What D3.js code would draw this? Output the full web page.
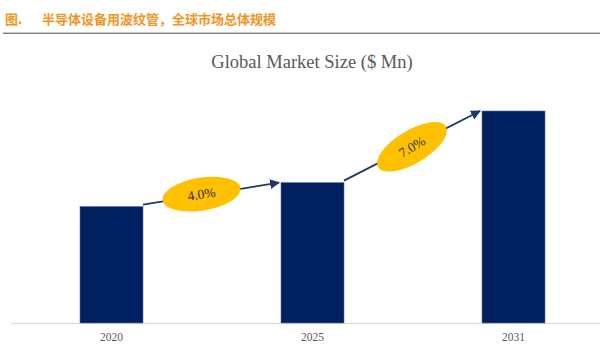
<!DOCTYPE html>
<html>
<head>
<meta charset="utf-8">
<script src="https://cdn.jsdelivr.net/npm/d3@7/dist/d3.min.js"></script>
<style>
  html, body { margin: 0; padding: 0; background: #fff; }
  svg { display: block; }
</style>
</head>
<body>
<svg id="chart" width="600" height="360"></svg>
<script>
const categories = ["2020", "2025", "2031"];
const marketSize = [117, 141, 213];
const cagrLabels = ["4.0%", "7.0%"];
const headerTitle = "图.";
const headerText = "半导体设备用波纹管，全球市场总体规模";
const chartTitle = "Global Market Size ($ Mn)";

const svg = d3.select("#chart");

// Header
svg.append("text").attr("x", 5).attr("y", 24)
  .attr("font-family", "'Noto Sans CJK SC', sans-serif").attr("font-weight", "bold")
  .attr("font-size", 13).attr("fill", "#F39322").text(headerTitle);
svg.append("text").attr("x", 42).attr("y", 24)
  .attr("font-family", "'Noto Sans CJK SC', sans-serif").attr("font-weight", "bold")
  .attr("font-size", 13).attr("fill", "#F39322").text(headerText);
svg.append("line").attr("x1", 3).attr("x2", 600).attr("y1", 32.5).attr("y2", 32.5)
  .attr("stroke", "#c8c8c8").attr("stroke-width", 1);
svg.append("line").attr("x1", 3).attr("x2", 600).attr("y1", 33.5).attr("y2", 33.5)
  .attr("stroke", "#7f7f7f").attr("stroke-width", 1.2);

// Chart title
svg.append("text").attr("x", 312).attr("y", 68).attr("text-anchor", "middle")
  .attr("font-family", "'Liberation Serif', 'Times New Roman', serif")
  .attr("font-size", 18.5).attr("fill", "#595959").text(chartTitle);

const baseY = 323;
const x = d3.scaleBand().domain(categories).range([11, 614])
  .paddingInner(0.6866).paddingOuter(0.3433);
const y = d3.scaleLinear().domain([0, 213]).range([baseY, 111]);

// Baseline
svg.append("line").attr("x1", 11).attr("x2", 600).attr("y1", baseY + 0.5).attr("y2", baseY + 0.5)
  .attr("stroke", "#d9d9d9").attr("stroke-width", 1);

// Bars
svg.append("g").selectAll("rect").data(categories).join("rect")
  .attr("x", d => x(d)).attr("width", x.bandwidth())
  .attr("y", (d, i) => y(marketSize[i]))
  .attr("height", (d, i) => baseY - y(marketSize[i]))
  .attr("fill", "#002060").attr("stroke", "#5a6fa0").attr("stroke-width", 0.6);

// X axis labels
const xAxis = d3.axisBottom(x).tickSize(0).tickPadding(10);
const gx = svg.append("g").attr("transform", `translate(0,${baseY})`).call(xAxis);
gx.select(".domain").remove();
gx.selectAll("text").attr("font-family", "'Liberation Serif', 'Times New Roman', serif")
  .attr("font-size", 11.5).attr("fill", "#595959");

// Arrow marker
const defs = svg.append("defs");
defs.append("marker").attr("id", "arr").attr("viewBox", "0 0 10 10")
  .attr("refX", 9).attr("refY", 5).attr("markerWidth", 5.5).attr("markerHeight", 5.5)
  .attr("markerUnits", "strokeWidth").attr("orient", "auto")
  .append("path").attr("d", "M0,0 L10,5 L0,10 Z").attr("fill", "#203864");

const ellipsePos = [0.43, 0.5];
for (let i = 0; i < cagrLabels.length; i++) {
  const a = categories[i], b = categories[i + 1];
  const x1 = x(a) + x.bandwidth(), y1 = y(marketSize[i]) - 2;
  const x2 = x(b) - 2, y2 = y(marketSize[i + 1]);
  svg.append("line").attr("x1", x1).attr("y1", y1).attr("x2", x2).attr("y2", y2)
    .attr("stroke", "#203864").attr("stroke-width", 1.8).attr("marker-end", "url(#arr)");
  const t = ellipsePos[i];
  const cx = x1 + (x2 - x1) * t, cy = y1 + (y2 - y1) * t - (i === 0 ? 1 : -1);
  let ang = Math.atan2(y2 - y1, x2 - x1) * 180 / Math.PI;
  if (i === 1) ang = -31;
  const g = svg.append("g").attr("transform", `translate(${cx},${cy}) rotate(${ang})`);
  g.append("ellipse").attr("rx", 39.5).attr("ry", 16.5).attr("fill", "#FFC000");
  g.append("text").attr("y", 4.5).attr("text-anchor", "middle")
    .attr("font-family", "'Liberation Serif', 'Times New Roman', serif")
    .attr("font-size", 13.5).attr("fill", "#2e2e2e").text(cagrLabels[i]);
}
</script>
</body>
</html>
